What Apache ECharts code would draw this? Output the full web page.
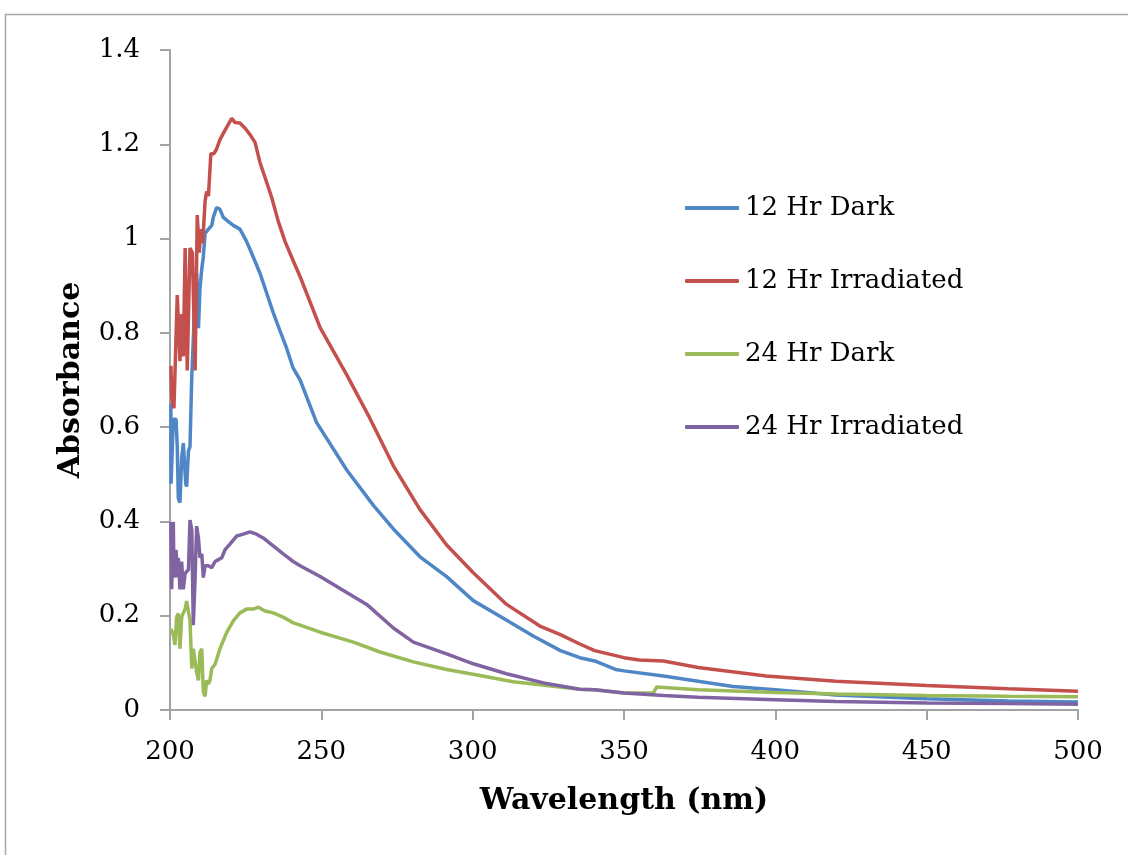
<!DOCTYPE html>
<html>
<head>
<meta charset="utf-8">
<script src="https://cdn.jsdelivr.net/npm/echarts@6/dist/echarts.min.js"></script>
<style>
html,body{margin:0;padding:0;background:#fff;}
#chart{width:1128px;height:855px;}
</style>
</head>
<body>
<div id="chart"></div>
<script>
// ---- Data ----
const seriesNames = ['12 Hr Dark', '12 Hr Irradiated', '24 Hr Dark', '24 Hr Irradiated'];
const xTicks = [200, 250, 300, 350, 400, 450, 500];
const yTicks = [0, 0.2, 0.4, 0.6, 0.8, 1, 1.2, 1.4];

const dark12X = [200.3, 200.35, 201.1, 202.0, 202.4, 202.75, 203.3, 203.85, 204.4, 204.7, 205.2, 205.5, 206.1, 206.6, 207.2, 207.7, 208.3, 208.8, 209.4, 209.9, 210.5, 211.0, 211.6, 212.7, 213.8, 214.3, 215.4, 216.5, 217.6, 219.3, 220.9, 223.1, 225.3, 227.5, 229.7, 231.9, 234.1, 236.3, 238.5, 240.7, 243.0, 248.4, 258.4, 267.2, 273.8, 282.6, 291.4, 300.2, 309.0, 320.0, 329.0, 335.4, 340.3, 347.2, 350.0, 363.0, 374.5, 386.0, 400.0, 420.0, 450.0, 477.0, 500.0];
const dark12Y = [0.65, 0.48, 0.617, 0.617, 0.558, 0.449, 0.44, 0.533, 0.566, 0.533, 0.48, 0.474, 0.55, 0.558, 0.709, 0.785, 0.885, 0.927, 0.81, 0.894, 0.936, 0.961, 1.011, 1.02, 1.028, 1.045, 1.066, 1.062, 1.045, 1.036, 1.028, 1.02, 0.994, 0.961, 0.927, 0.885, 0.843, 0.805, 0.768, 0.725, 0.70, 0.61, 0.509, 0.434, 0.384, 0.325, 0.283, 0.232, 0.199, 0.157, 0.126, 0.111, 0.104, 0.086, 0.083, 0.072, 0.061, 0.050, 0.043, 0.032, 0.024, 0.019, 0.017];

const irr12X = [200.3, 200.6, 201.3, 202.4, 203.3, 203.9, 204.4, 205.0, 205.7, 206.6, 207.4, 208.3, 209.0, 209.7, 210.1, 210.8, 211.6, 212.1, 212.7, 213.5, 214.5, 215.4, 216.5, 218.2, 220.4, 221.5, 223.1, 224.8, 226.4, 228.1, 229.7, 231.9, 233.6, 235.8, 238.0, 240.7, 243.0, 249.6, 258.4, 266.1, 273.8, 282.6, 291.4, 300.2, 311.2, 322.2, 329.0, 335.4, 340.3, 350.0, 355.0, 363.0, 374.5, 397.0, 420.0, 450.0, 477.0, 500.0];
const irr12Y = [0.73, 0.66, 0.64, 0.88, 0.74, 0.84, 0.75, 0.98, 0.72, 0.98, 0.97, 0.72, 1.05, 0.97, 1.02, 0.99, 1.08, 1.10, 1.09, 1.18, 1.18, 1.19, 1.21, 1.23, 1.255, 1.246, 1.245, 1.234, 1.221, 1.204, 1.162, 1.12, 1.087, 1.036, 0.994, 0.953, 0.919, 0.811, 0.711, 0.618, 0.518, 0.425, 0.350, 0.291, 0.224, 0.178, 0.160, 0.140, 0.126, 0.111, 0.106, 0.104, 0.090, 0.072, 0.061, 0.052, 0.045, 0.040];

const dark24X = [200.3, 201.1, 201.65, 202.2, 202.75, 203.3, 203.85, 204.4, 205.0, 205.5, 206.1, 206.6, 207.2, 207.7, 208.3, 208.8, 209.4, 209.9, 210.5, 211.0, 211.6, 212.1, 212.7, 213.2, 213.8, 214.9, 216.5, 218.7, 220.9, 223.1, 225.3, 227.5, 229.2, 231.4, 234.1, 237.4, 240.7, 243.0, 249.6, 260.6, 269.4, 280.4, 291.4, 302.4, 313.4, 324.4, 335.4, 340.3, 350.0, 359.7, 360.8, 374.5, 400.0, 420.0, 450.0, 477.0, 500.0];
const dark24Y = [0.172, 0.16, 0.138, 0.197, 0.205, 0.13, 0.197, 0.206, 0.214, 0.231, 0.235, 0.19, 0.088, 0.13, 0.134, 0.08, 0.063, 0.122, 0.13, 0.038, 0.029, 0.063, 0.055, 0.063, 0.088, 0.097, 0.13, 0.164, 0.189, 0.206, 0.214, 0.214, 0.218, 0.210, 0.206, 0.197, 0.185, 0.180, 0.165, 0.144, 0.123, 0.102, 0.086, 0.073, 0.060, 0.052, 0.044, 0.043, 0.036, 0.036, 0.049, 0.043, 0.037, 0.034, 0.031, 0.029, 0.028];

const irr24X = [200.3, 200.55, 201.1, 201.3, 202.0, 202.4, 202.75, 203.3, 203.85, 204.4, 205.0, 205.5, 206.1, 206.6, 207.2, 207.7, 208.3, 208.8, 209.4, 209.9, 210.5, 211.0, 211.6, 212.7, 213.8, 214.9, 216.0, 217.1, 218.2, 219.8, 222.0, 224.2, 226.4, 228.6, 230.8, 234.1, 237.4, 240.7, 243.0, 249.6, 258.4, 265.0, 273.8, 280.4, 291.4, 300.2, 311.2, 324.4, 335.4, 340.3, 350.0, 363.0, 374.5, 400.0, 420.0, 450.0, 477.0, 500.0];
const irr24Y = [0.399, 0.256, 0.399, 0.281, 0.34, 0.281, 0.323, 0.256, 0.315, 0.256, 0.29, 0.29, 0.298, 0.403, 0.382, 0.180, 0.281, 0.390, 0.365, 0.323, 0.331, 0.281, 0.306, 0.306, 0.302, 0.315, 0.319, 0.323, 0.340, 0.352, 0.369, 0.373, 0.378, 0.373, 0.365, 0.348, 0.331, 0.315, 0.306, 0.283, 0.249, 0.224, 0.174, 0.144, 0.119, 0.098, 0.077, 0.056, 0.044, 0.043, 0.036, 0.031, 0.027, 0.022, 0.018, 0.015, 0.014, 0.012];

const colors = ['#4F86C6', '#C4504D', '#9BBB59', '#8064A2'];

// ---- Build ----
const zip = (xs, ys) => xs.map((x, i) => [x, ys[i]]);
const seriesData = [zip(dark12X, dark12Y), zip(irr12X, irr12Y), zip(dark24X, dark24Y), zip(irr24X, irr24Y)];

const FONT = 'DejaVu Serif';
const axisGray = '#a3a3a3';

const chart = echarts.init(document.getElementById('chart'), null, {renderer: 'canvas'});
chart.setOption({
  animation: false,
  backgroundColor: '#fff',
  color: colors,
  graphic: [{
    type: 'rect', left: 3, top: 12, shape: {width: 1200, height: 1000},
    style: {fill: 'none', stroke: '#a8a8a8', lineWidth: 1.5}, silent: true, z: -1
  }],
  grid: {left: 170, right: 50, top: 50, bottom: 145, containLabel: false},
  legend: {
    orient: 'vertical', left: 685, top: 195, padding: 0, itemWidth: 54, itemHeight: 4, itemGap: 47,
    icon: 'roundRect',
    textStyle: {fontFamily: FONT, fontSize: 26, color: '#000', padding: [0, 0, 0, 1]},
    data: seriesNames
  },
  xAxis: {
    type: 'value', min: xTicks[0], max: xTicks[xTicks.length - 1], interval: 50,
    name: 'Wavelength (nm)', nameLocation: 'middle', nameGap: 76,
    nameTextStyle: {fontFamily: FONT, fontSize: 30, fontWeight: 'bold', color: '#000'},
    axisLine: {show: true, lineStyle: {color: axisGray, width: 2}},
    axisTick: {show: true, inside: false, length: 10, lineStyle: {color: axisGray, width: 2}},
    axisLabel: {fontFamily: FONT, fontSize: 26, color: '#000', margin: 29},
    splitLine: {show: false}
  },
  yAxis: {
    type: 'value', min: yTicks[0], max: yTicks[yTicks.length - 1], interval: 0.2,
    name: 'Absorbance', nameLocation: 'middle', nameGap: 84, nameRotate: 90,
    nameTextStyle: {fontFamily: FONT, fontSize: 30, fontWeight: 'bold', color: '#000'},
    axisLine: {show: true, lineStyle: {color: axisGray, width: 2}},
    axisTick: {show: true, inside: false, length: 10, lineStyle: {color: axisGray, width: 2}},
    axisLabel: {fontFamily: FONT, fontSize: 26, color: '#000', margin: 30},
    splitLine: {show: false}
  },
  series: seriesNames.map((n, i) => ({
    name: n, type: 'line', data: seriesData[i], showSymbol: false, symbol: 'none',
    lineStyle: {width: 3.5, color: colors[i]}, itemStyle: {color: colors[i]}
  }))
});
</script>
</body>
</html>
